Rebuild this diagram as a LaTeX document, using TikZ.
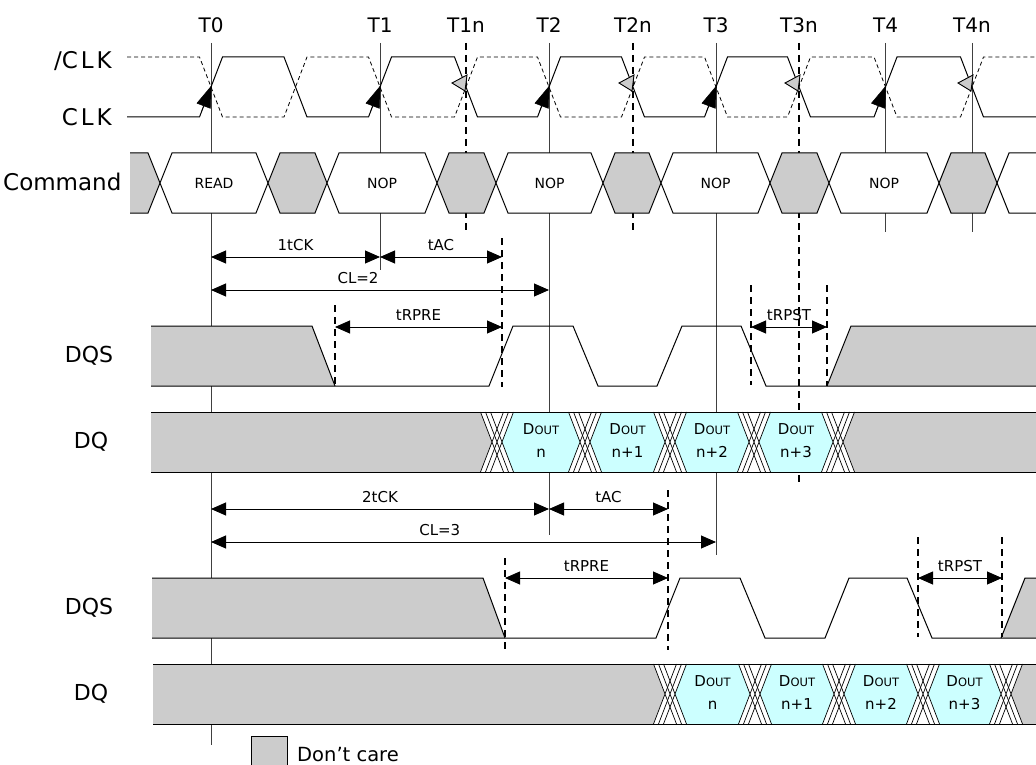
\documentclass[tikz,border=0pt]{standalone}
\usepackage{fontspec}
\setmainfont{DejaVu Sans}
\usetikzlibrary{arrows.meta}

\definecolor{dcgray}{RGB}{204,204,204}
\definecolor{doutcyan}{RGB}{204,255,255}
\newcommand{\fsz}[1]{\fontsize{#1}{#1}\selectfont}
\newcommand{\doutlbl}{D{\fsz{11.5}OUT}}

\tikzset{
  tline/.style={draw=black!75, line width=0.9pt},
  tdash/.style={draw=black, line width=2pt, dash pattern=on 7pt off 5pt},
  wave/.style={draw=black, line width=1pt},
  xwave/.style={draw=black, line width=0.7pt},
  tarr/.style={line width=0.9pt, arrows={Triangle[length=15pt,width=13pt]-Triangle[length=15pt,width=13pt]}},
  tlbl/.style={font=\fsz{15}, above=6pt, inner sep=0pt},
  siglbl/.style={font=\fsz{23}, anchor=east, inner sep=0pt},
  cmdlbl/.style={font=\fsz{14}, inner sep=0pt},
  dout/.style={align=center, font=\fontsize{15}{23}\selectfont, inner sep=0pt},
}

\begin{document}
\begin{tikzpicture}[x=1pt, y=-1pt, >=latex]
\useasboundingbox (0,0) rectangle (1036,765);

% Linhas de referencia
\foreach \tx/\lab/\yend in {211/T0/745, 380/T1/270, 549/T2/535, 716/T3/555, 885.5/T4/232, 972/T4n/232} {
  \draw[tline] (\tx,43) -- (\tx,\yend);
  \node[font=\fsz{20}, inner sep=0pt] (lab\lab) at (\tx,25) {\lab};
}
\foreach \tx/\lab/\yend in {466/T1n/232, 633/T2n/232, 799/T3n/485} {
  \draw[tdash] (\tx,43) -- (\tx,\yend);
  \node[font=\fsz{20}, inner sep=0pt] (lab\lab) at (\tx,25) {\lab};
}

% /CLK e CLK
\node[siglbl] (nclk) at (112,61) {/C\kern3pt L\kern3pt K};
\node[siglbl] (clk) at (112,117) {C\kern3pt L\kern3pt K};
\draw[draw=black, line width=0.8pt, dash pattern=on 4pt off 3pt] (127,57)
  \foreach \ri/\fa in {211/295.5,380/466,549/633,716/799,885.5/972} { -- (\ri-11.5,57) -- (\ri+11.5,117) -- (\fa-11.5,117) -- (\fa+11.5,57) } -- (1036,57);
\draw[wave] (127,117)
  \foreach \ri/\fa in {211/295.5,380/466,549/633,716/799,885.5/972} { -- (\ri-11.5,117) -- (\ri+11.5,57) -- (\fa-11.5,57) -- (\fa+11.5,117) } -- (1036,117);
\foreach \ri in {211,380,549,716,885.5}
  \draw[line width=0.5pt, -{Triangle[length=22pt,width=15pt]}] (\ri-9.5,111.5) -- (\ri+0.5,85.5);
\foreach \fa in {466,633,799,972}
  \filldraw[fill=dcgray, draw=black, line width=0.9pt] (\fa-14,83) -- (\fa+1,75) -- (\fa-1,91) -- cycle;

% Comando
\node[siglbl, anchor=west] (cmd) at (3,182) {Command};
\fill[dcgray] (130,153) -- (148,153) -- (160,183) -- (148,213) -- (130,213) -- cycle;
\draw[wave] (130,153) -- (148,153) -- (160,183) -- (148,213) -- (130,213);
\foreach \xa/\xb/\col in {160/268/white, 268/327/dcgray, 327/437/white, 437/496/dcgray, 496/603/white, 603/661/dcgray, 661/770/white, 770/829/dcgray, 829/939/white, 939/997/dcgray}
  \filldraw[wave, fill=\col] (\xa,183) -- (\xa+12,153) -- (\xb-12,153) -- (\xb,183) -- (\xb-12,213) -- (\xa+12,213) -- cycle;
\draw[wave] (1036,153) -- (1009,153) -- (997,183) -- (1009,213) -- (1036,213);
\foreach \xc/\txt [count=\i] in {214/READ, 382/NOP, 549.5/NOP, 715.5/NOP, 884/NOP}
  \node[cmdlbl] (op\i) at (\xc,183) {\txt};

% DQS (CL=2)
\node[font=\fsz{22}, inner sep=0pt] (dqsa) at (89,356) {DQS};
\fill[dcgray] (151,326) -- (312,326) -- (335,386) -- (151,386) -- cycle;
\fill[dcgray] (827,386) -- (851,326) -- (1036,326) -- (1036,386) -- cycle;
\draw[wave] (151,326) -- (312,326) -- (335,386);
\draw[wave] (151,386) -- (489,386) -- (513,326) -- (573,326) -- (598,386) -- (657,386) -- (682,326) -- (741,326) -- (766,386) -- (1036,386);
\draw[wave] (827,386) -- (851,326) -- (1036,326);

% Tempos (CL=2)
\draw[tdash] (502,238) -- (502,387);
\draw[tdash] (335,305) -- (335,385);
\draw[tdash] (751,285) -- (751,385);
\draw[tdash] (827,285) -- (827,386);
\draw[tarr] (211,257) -- node[tlbl] {1tCK} (380,257);
\draw[tarr] (380,257) -- node[tlbl] {tAC} (502,257);
\draw[tarr] (211,290) -- node[tlbl, pos=0.435] {CL=2} (549,290);
\draw[tarr] (335,327) -- node[tlbl] {tRPRE} (502,327);
\draw[tarr] (751,327) -- node[tlbl] {tRPST} (827,327);

% DQ (CL=2)
\node[font=\fsz{22}, inner sep=0pt] (dqa) at (91,442) {DQ};
\fill[dcgray] (151,412) -- (480.5,412) -- (492,442) -- (480.5,472) -- (151,472) -- cycle;
\fill[dcgray] (854.5,412) -- (1036,412) -- (1036,472) -- (854.5,472) -- (843,442) -- cycle;
\foreach \xa/\xb/\txt [count=\i] in {497/585/n, 585/670/n+1, 670/754/n+2, 754/838/n+3} {
  \fill[doutcyan] (\xa+5,442) -- (\xa+16.5,412) -- (\xb-16.5,412) -- (\xb-5,442) -- (\xb-16.5,472) -- (\xa+16.5,472) -- cycle;
  \node[dout] (da\i) at ({(\xa+\xb)/2},441) {\doutlbl\\\txt};
}
\draw[wave] (151,412) -- (1036,412) (151,472) -- (1036,472);
\foreach \cx in {497,585,670,754,838}
  \foreach \sh in {-5,0,5}
    \draw[xwave] (\cx+\sh-11.5,412) -- (\cx+\sh+11.5,472) (\cx+\sh-11.5,472) -- (\cx+\sh+11.5,412);

% DQS (CL=3)
\node[font=\fsz{22}, inner sep=0pt] (dqsb) at (89,608) {DQS};
\fill[dcgray] (152,578) -- (483,578) -- (505,638) -- (152,638) -- cycle;
\fill[dcgray] (1001,638) -- (1025,578) -- (1036,578) -- (1036,638) -- cycle;
\draw[wave] (152,578) -- (483,578) -- (505,638);
\draw[wave] (152,638) -- (656,638) -- (680,578) -- (740,578) -- (765,638) -- (825,638) -- (849,578) -- (907,578) -- (932,638) -- (1036,638);
\draw[wave] (1001,638) -- (1025,578) -- (1036,578);

% Tempos (CL=3)
\draw[tdash] (668,490) -- (668,650);
\draw[tdash] (505,558) -- (505,650);
\draw[tdash] (918,537) -- (918,637);
\draw[tdash] (1002,537) -- (1002,637);
\draw[tarr] (211,509) -- node[tlbl] {2tCK} (549,509);
\draw[tarr] (549,509) -- node[tlbl] {tAC} (668,509);
\draw[tarr] (211,542) -- node[tlbl, pos=0.453] {CL=3} (716,542);
\draw[tarr] (505,578) -- node[tlbl] {tRPRE} (668,578);
\draw[tarr] (918,578) -- node[tlbl] {tRPST} (1002,578);

% DQ (CL=3)
\node[font=\fsz{22}, inner sep=0pt] (dqb) at (91,694) {DQ};
\fill[dcgray] (153,664) -- (653.5,664) -- (665,694) -- (653.5,724) -- (153,724) -- cycle;
\fill[dcgray] (1022.5,664) -- (1036,664) -- (1036,724) -- (1022.5,724) -- (1011,694) -- cycle;
\foreach \xa/\xb/\txt [count=\i] in {670/755/n, 755/839/n+1, 839/923/n+2, 923/1006/n+3} {
  \fill[doutcyan] (\xa+5,694) -- (\xa+16.5,664) -- (\xb-16.5,664) -- (\xb-5,694) -- (\xb-16.5,724) -- (\xa+16.5,724) -- cycle;
  \node[dout] (db\i) at ({(\xa+\xb)/2},693) {\doutlbl\\\txt};
}
\draw[wave] (153,664) -- (1036,664) (153,724) -- (1036,724);
\foreach \cx in {670,755,839,923,1006}
  \foreach \sh in {-5,0,5}
    \draw[xwave] (\cx+\sh-11.5,664) -- (\cx+\sh+11.5,724) (\cx+\sh-11.5,724) -- (\cx+\sh+11.5,664);

% Legenda
\filldraw[wave, fill=dcgray] (251,736) rectangle (287,770);
\node[font=\fsz{19.5}, anchor=west, inner sep=0pt] (leg) at (297,755) {Don’t care};
\end{tikzpicture}
\end{document}
